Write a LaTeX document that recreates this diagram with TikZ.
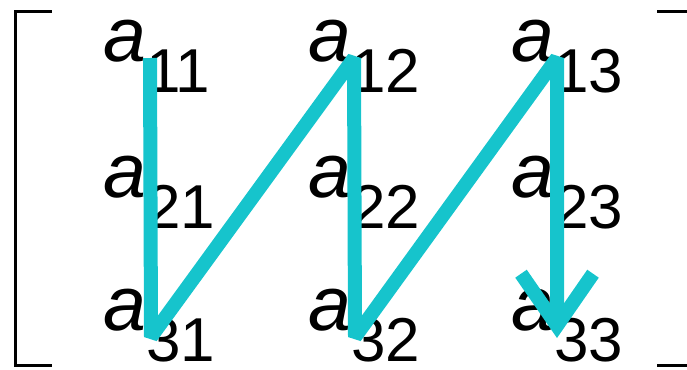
\documentclass[tikz,border=0pt]{standalone}
\usepackage{fontspec}
\setmainfont{Liberation Sans}
\usetikzlibrary{arrows.meta}

\definecolor{zigcyan}{RGB}{22,196,204}

\tikzset{
  entry/.style={anchor=base west,inner sep=0pt,font=\fontsize{77}{77}\selectfont},
  zig/.style={color=zigcyan,line width=14pt,line join=bevel},
  brack/.style={line width=3pt,line cap=rect}
}

\newcommand{\elem}[1]{\textit{a}\raisebox{-31pt}{\fontsize{62}{62}\selectfont #1}}

\begin{document}
\begin{tikzpicture}[x=1pt,y=-1pt]
 \useasboundingbox (0,0) rectangle (687,369);

 % corner points of the zig-zag
 \coordinate (p11) at (150,58);
 \coordinate (p31) at (151,337);
 \coordinate (p12) at (354,58);
 \coordinate (p32) at (355,337);
 \coordinate (p13) at (557,58);
 \coordinate (p33) at (557,338);

 % Text Node
 \node[entry] (e11) at ([xshift=-47pt,yshift=-4pt]p11) {\elem{11}};
 \node[entry] (e21) at ([xshift=-47pt,yshift=-139pt]p11) {\elem{21}};
 \node[entry] (e31) at ([xshift=-47pt,yshift=-272pt]p11) {\elem{31}};
 % Text Node
 \node[entry] (e12) at ([xshift=-46pt,yshift=-4pt]p12) {\elem{12}};
 \node[entry] (e22) at ([xshift=-46pt,yshift=-139pt]p12) {\elem{22}};
 \node[entry] (e32) at ([xshift=-46pt,yshift=-272pt]p12) {\elem{32}};
 % Text Node
 \node[entry] (e13) at ([xshift=-46pt,yshift=-4pt]p13) {\elem{13}};
 \node[entry] (e23) at ([xshift=-46pt,yshift=-139pt]p13) {\elem{23}};
 \node[entry] (e33) at ([xshift=-46pt,yshift=-272pt]p13) {\elem{33}};

 %Straight Lines
 \draw[zig,-{Straight Barb[length=52pt,width=72pt]}] (p11) -- (p31) -- (p12) -- (p32) -- (p13) -- (p33);

 % brackets
 \draw[brack] (50,12) -- (15,12) -- (15,365) -- (50,365);
 \draw[brack] (658,12) -- (686,12);
 \draw[brack] (658,365) -- (686,365);

\end{tikzpicture}
\end{document}
